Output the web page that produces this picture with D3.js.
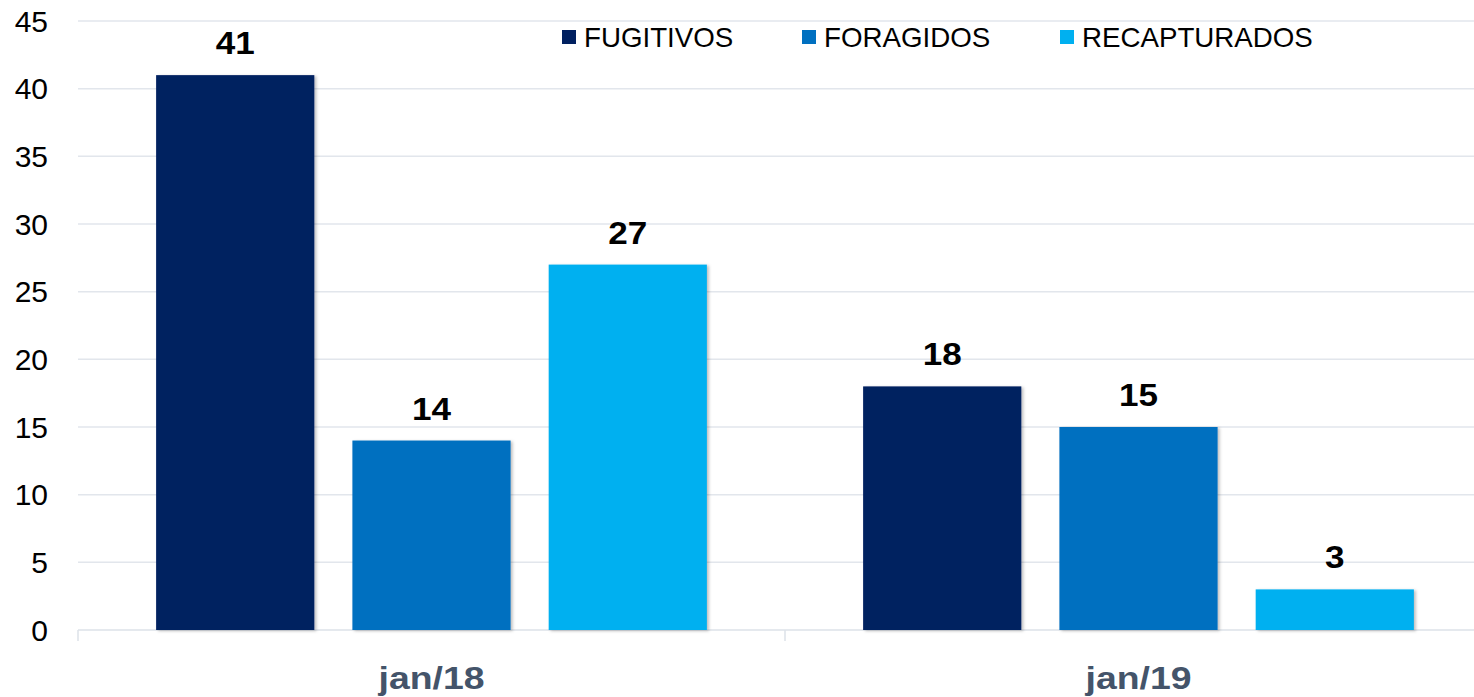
<!DOCTYPE html>
<html>
<head>
<meta charset="utf-8">
<script src="https://cdn.jsdelivr.net/npm/d3@7"></script>
<style>
  html, body { margin: 0; padding: 0; background: #fff; }
  svg { display: block; font-family: Arial, "Liberation Sans", sans-serif; }
</style>
</head>
<body>
<div id="root"></div>
<script>
// chart values
const categories = ['jan/18', 'jan/19'];
const seriesNames = ['FUGITIVOS', 'FORAGIDOS', 'RECAPTURADOS'];
const seriesColors = ['#002060', '#0070C0', '#00B0F0'];
const fugitivos = [41, 18];
const foragidos = [14, 15];
const recapturados = [27, 3];
const yTicks = [0, 5, 10, 15, 20, 25, 30, 35, 40, 45];

const width = 1474;
const height = 697;
const plot = { left: 78, top: 21, bottom: 630, right: 1492 };

const svg = d3.select('#root')
  .append('svg')
  .attr('width', width)
  .attr('height', height)
  .attr('viewBox', `0 0 ${width} ${height}`);

// soft shadow like the office export
const defs = svg.append('defs');
const shadow = defs.append('filter').attr('id', 'shadow')
  .attr('x', '-10%').attr('y', '-10%').attr('width', '130%').attr('height', '130%');
shadow.append('feDropShadow')
  .attr('dx', 2).attr('dy', 1).attr('stdDeviation', 1.5)
  .attr('flood-color', '#000').attr('flood-opacity', 0.25);

const y = d3.scaleLinear().domain([0, 45]).range([plot.bottom, plot.top]);
const x0 = d3.scaleBand().domain(categories).range([plot.left, plot.right])
  .paddingInner(0).paddingOuter(0);
const x1 = d3.scaleBand().domain(seriesNames).range([0, x0.bandwidth()])
  .paddingInner(0.194).paddingOuter(0.398);

// gridlines
svg.append('g')
  .selectAll('line')
  .data(yTicks.filter(d => d > 0))
  .join('line')
  .attr('x1', plot.left)
  .attr('x2', width)
  .attr('y1', d => y(d))
  .attr('y2', d => y(d))
  .attr('stroke', '#e2e6ec')
  .attr('stroke-width', 1.5);

// y tick labels
svg.append('g')
  .selectAll('text')
  .data(yTicks)
  .join('text')
  .attr('x', 48)
  .attr('y', d => y(d))
  .attr('text-anchor', 'end')
  .attr('dominant-baseline', 'central')
  .attr('font-size', 30)
  .attr('fill', '#000')
  .text(d => d);

// x axis line and category ticks
svg.append('line')
  .attr('x1', plot.left).attr('x2', width)
  .attr('y1', y(0)).attr('y2', y(0))
  .attr('stroke', '#dde2e9').attr('stroke-width', 1.5);
svg.append('g')
  .selectAll('line')
  .data(categories.map(c => x0(c)))
  .join('line')
  .attr('x1', d => d).attr('x2', d => d)
  .attr('y1', y(0)).attr('y2', y(0) + 11)
  .attr('stroke', '#dde2e9').attr('stroke-width', 1.5);

const rows = categories.map((c, i) => ({
  category: c,
  values: [fugitivos[i], foragidos[i], recapturados[i]].map((v, j) => ({
    name: seriesNames[j], value: v, color: seriesColors[j]
  }))
}));

const groups = svg.append('g')
  .selectAll('g')
  .data(rows)
  .join('g')
  .attr('transform', d => `translate(${x0(d.category)},0)`);

groups.selectAll('rect')
  .data(d => d.values)
  .join('rect')
  .attr('x', d => x1(d.name))
  .attr('y', d => y(d.value))
  .attr('width', x1.bandwidth())
  .attr('height', d => y(0) - y(d.value))
  .attr('fill', d => d.color)
  .attr('filter', 'url(#shadow)');

// value labels, slightly wide glyphs as in the export
groups.selectAll('text.value')
  .data(d => d.values)
  .join('text')
  .attr('class', 'value')
  .attr('x', d => x1(d.name) + x1.bandwidth() / 2)
  .attr('y', d => y(d.value) - 21)
  .attr('text-anchor', 'middle')
  .attr('font-size', 31)
  .attr('font-weight', 'bold')
  .attr('fill', '#000')
  .attr('textLength', d => String(d.value).length * 19.5)
  .attr('lengthAdjust', 'spacingAndGlyphs')
  .text(d => d.value);

// category labels
svg.append('g')
  .selectAll('text')
  .data(categories)
  .join('text')
  .attr('x', d => x0(d) + x1('FORAGIDOS') + x1.bandwidth() / 2)
  .attr('y', 689)
  .attr('text-anchor', 'middle')
  .attr('font-size', 31)
  .attr('font-weight', 'bold')
  .attr('fill', '#44546A')
  .attr('textLength', 106)
  .attr('lengthAdjust', 'spacingAndGlyphs')
  .text(d => d);

// legend
const legendX = [562, 802, 1060];
const legend = svg.append('g')
  .selectAll('g')
  .data(seriesNames)
  .join('g')
  .attr('transform', (d, i) => `translate(${legendX[i]},30)`);
legend.append('rect')
  .attr('width', 14).attr('height', 14)
  .attr('fill', (d, i) => seriesColors[i]);
legend.append('text')
  .attr('x', 22)
  .attr('y', 17)
  .attr('font-size', 27.7)
  .attr('fill', '#000')
  .text(d => d);
</script>
</body>
</html>
